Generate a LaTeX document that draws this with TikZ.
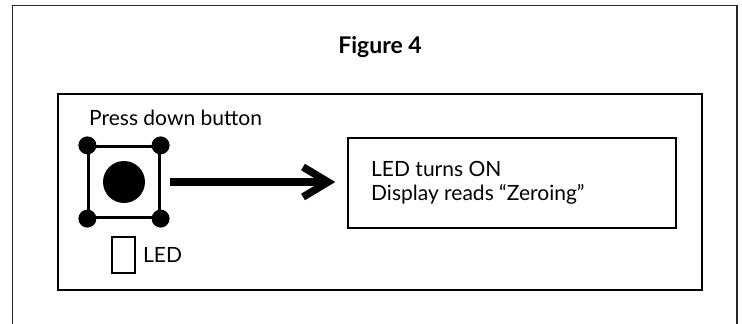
\documentclass[tikz,border=0pt]{standalone}
\usepackage{fontspec}
\setmainfont{Lato}
\begin{document}
\begin{tikzpicture}[x=1pt,y=-1pt,
 box/.style={draw=black,line width=1.8pt,fill=white},
 dot/.style={circle,fill=black,inner sep=0pt,minimum size=18pt},
 lbl/.style={inner sep=0pt,font=\fontsize{21}{24}\selectfont,anchor=west,align=left}]
\useasboundingbox (0,0) rectangle (742,324);
\fill[white] (0,0) rectangle (742,324);
\draw[line width=1.4pt,black!85] (12.7,324) -- (12.7,5.7) -- (737,5.7) -- (737,324);
\node[inner sep=0pt,font=\bfseries\fontsize{23}{26}\selectfont] (title) at (380,47) {Figure 4};
\node[box,minimum width=644pt,minimum height=196pt,inner sep=0pt,anchor=north west] (outer) at (57,93) {};
\node[lbl] (press) at (89,118) {Press down button};
\node[box,line width=2.2pt,minimum width=71pt,minimum height=71pt,inner sep=0pt] (btn) at (124,182) {};
\node[circle,fill=black,inner sep=0pt,minimum size=42pt] (cap) at (btn.center) {};
\node[dot] (d1) at (btn.north west) {};
\node[dot] (d2) at (btn.north east) {};
\node[dot] (d3) at (btn.south west) {};
\node[dot] (d4) at (btn.south east) {};
\node[box,minimum width=23pt,minimum height=36pt,inner sep=0pt] (led) at (123.5,255) {};
\node[lbl] (ledl) at (143,255) {LED};
\node[box,minimum width=328pt,minimum height=90pt,inner sep=0pt,anchor=north west] (disp) at (347,137) {};
\node[lbl,anchor=west] (dispt) at (371,183) {LED turns ON\\Display reads “Zeroing”};
\coordinate (from) at (170,182);
\coordinate (tip) at (328,182);
\draw[line width=7.5pt] (from) -- (tip);
\draw[line width=7.5pt,miter limit=10] (303,167) -- (tip) -- (303,197);
\end{tikzpicture}
\end{document}
